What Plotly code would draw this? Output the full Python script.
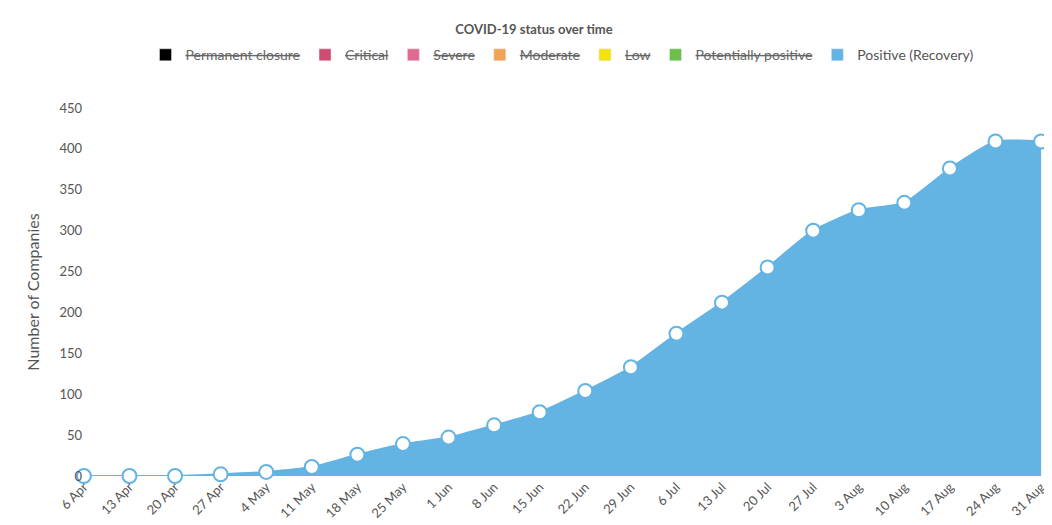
import plotly.graph_objects as go

weeks = ["6 Apr", "13 Apr", "20 Apr", "27 Apr", "4 May", "11 May", "18 May", "25 May", "1 Jun",
         "8 Jun", "15 Jun", "22 Jun", "29 Jun", "6 Jul", "13 Jul", "20 Jul", "27 Jul", "3 Aug",
         "10 Aug", "17 Aug", "24 Aug", "31 Aug"]
positive = [0, 0, 0, 2, 5, 11, 26, 39, 47, 62, 78, 104, 133, 174, 212, 255, 300, 325, 334, 376, 409, 409]

hidden_names = ["Permanent closure", "Critical", "Severe", "Moderate", "Low", "Potentially positive"]
hidden_colors = ["#000000", "#d04a72", "#e4698e", "#f0a453", "#f4e30a", "#6cc04a"]

fig = go.Figure()

# legend-only entries for the switched-off series
for name, color in zip(hidden_names, hidden_colors):
    fig.add_trace(go.Bar(x=[None], y=[None], marker_color=color,
                         name='<span style="text-decoration:line-through;color:#666">' + name + '</span>'))
fig.add_trace(go.Bar(x=[None], y=[None], marker_color="#63b3e3", name="Positive (Recovery)"))

fig.add_trace(go.Scatter(
    x=weeks, y=positive, mode="lines+markers",
    line=dict(color="#63b3e3", width=2, shape="spline", smoothing=0.5),
    fill="tozeroy", fillcolor="#63b3e3",
    marker=dict(size=14, color="white", line=dict(color="#63b3e3", width=2)),
    showlegend=False, cliponaxis=False))

fig.update_layout(
    width=1052, height=525,
    title=dict(text="<b>COVID-19 status over time</b>", x=0.5, y=0.96, yanchor="middle",
               font=dict(size=13, color="#555")),
    font=dict(family="Lato", size=13, color="#555"),
    plot_bgcolor="white", paper_bgcolor="white",
    legend=dict(orientation="h", x=0.5, xanchor="center", y=1.1, yanchor="bottom", font=dict(size=14),
                itemclick=False),
    margin=dict(l=75, r=12, t=100, b=50),
    xaxis=dict(type="category", tickangle=-45, showgrid=False, range=[-0.02, 21.02]),
    yaxis=dict(title="Number of Companies", range=[0, 450], dtick=50, showgrid=False, zeroline=False),
)

fig.write_html("out.html")
